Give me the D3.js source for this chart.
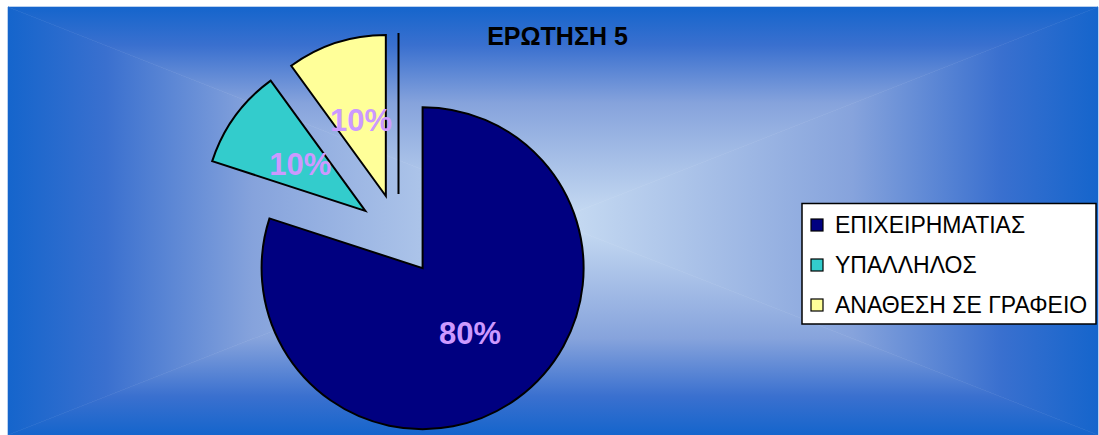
<!DOCTYPE html>
<html>
<head>
<meta charset="utf-8">
<script src="https://cdn.jsdelivr.net/npm/d3@7"></script>
<style>
  html, body { margin: 0; padding: 0; background: #ffffff; }
  svg { display: block; }
  text { font-family: "Liberation Sans", Arial, sans-serif; }
</style>
</head>
<body>
<svg id="chart" width="1099" height="435"></svg>
<script>
// Chart data
const title = "ΕΡΩΤΗΣΗ 5";
const categories = ["ΕΠΙΧΕΙΡΗΜΑΤΙΑΣ", "ΥΠΑΛΛΗΛΟΣ", "ΑΝΑΘΕΣΗ ΣΕ ΓΡΑΦΕΙΟ", ""];
const values = [80, 10, 10, 0];
const sliceColors = ["#000080", "#33cccc", "#ffff99", "#ffffff"];

const W = 1099, H = 435;
const svg = d3.select("#chart");

// Plot background: rectangular "from centre" gradient built from four triangles
const bg = { x0: 8, y0: 7, x1: 1098, y1: 435 };
const cx = (bg.x0 + bg.x1) / 2, cy = (bg.y0 + bg.y1) / 2;
const defs = svg.append("defs");
const stops = [
  { o: 0, c: "#1565cc" },
  { o: 0.18, c: "#3a70cf" },
  { o: 0.45, c: "#86a3dc" },
  { o: 1, c: "#c9ddf3" }
];
const sides = [
  { id: "gTop", pts: [[bg.x0, bg.y0], [bg.x1, bg.y0], [cx, cy]], g: [cx, bg.y0, cx, cy] },
  { id: "gBottom", pts: [[bg.x0, bg.y1], [bg.x1, bg.y1], [cx, cy]], g: [cx, bg.y1, cx, cy] },
  { id: "gLeft", pts: [[bg.x0, bg.y0], [bg.x0, bg.y1], [cx, cy]], g: [bg.x0, cy, cx, cy] },
  { id: "gRight", pts: [[bg.x1, bg.y0], [bg.x1, bg.y1], [cx, cy]], g: [bg.x1, cy, cx, cy] }
];
sides.forEach(s => {
  const lg = defs.append("linearGradient").attr("id", s.id)
    .attr("gradientUnits", "userSpaceOnUse")
    .attr("x1", s.g[0]).attr("y1", s.g[1]).attr("x2", s.g[2]).attr("y2", s.g[3]);
  stops.forEach(st => lg.append("stop").attr("offset", st.o).attr("stop-color", st.c));
});
const bgLayer = svg.append("g");
sides.forEach(s => {
  bgLayer.append("path")
    .attr("d", d3.line()(s.pts) + "Z")
    .attr("fill", `url(#${s.id})`)
    .attr("stroke", `url(#${s.id})`)
    .attr("stroke-width", 0.6);
});

// Title
svg.append("text")
  .attr("x", 557.5).attr("y", 44.5)
  .attr("text-anchor", "middle")
  .attr("font-size", 25).attr("font-weight", "bold")
  .attr("fill", "#000")
  .text(title);

// Exploded pie
const radius = 161, explode = 41;
const center = [398.5, 235];
const data = categories.map((c, i) => ({ name: c, value: values[i], color: sliceColors[i] }));
const total = d3.sum(values);
const pie = d3.pie().sort(null).value(d => d.value);
const arc = d3.arc().innerRadius(0).outerRadius(radius);
const arcs = pie(data);

const pieG = svg.append("g").attr("transform", `translate(${center[0]},${center[1]})`);
const slices = pieG.selectAll("g.slice").data(arcs).join("g")
  .attr("class", "slice")
  .attr("transform", d => {
    const mid = (d.startAngle + d.endAngle) / 2;
    return `translate(${explode * Math.sin(mid)},${-explode * Math.cos(mid)})`;
  });
slices.append("path")
  .attr("d", arc)
  .attr("fill", d => d.data.color)
  .attr("stroke", "#000")
  .attr("stroke-width", 2)
  .attr("stroke-linejoin", "miter");

// Percentage labels at half radius
slices.filter(d => d.data.value > 0).append("text")
  .attr("transform", d => `translate(${arc.centroid(d)})`)
  .attr("text-anchor", "middle")
  .attr("dy", "0.36em")
  .attr("font-size", 31).attr("font-weight", "bold")
  .attr("fill", "#cc99ff")
  .text(d => Math.round(d.data.value / total * 100) + "%");

// Legend
const legendItems = data.filter(d => d.name !== "");
const legend = svg.append("g");
legend.append("rect")
  .attr("x", 802).attr("y", 203.5)
  .attr("width", 294).attr("height", 120.5)
  .attr("fill", "#ffffff").attr("stroke", "#000").attr("stroke-width", 1.5);
const rowY = d3.scalePoint().domain(legendItems.map(d => d.name)).range([225, 305]);
const rows = legend.selectAll("g.row").data(legendItems).join("g")
  .attr("class", "row")
  .attr("transform", d => `translate(0,${rowY(d.name)})`);
rows.append("rect")
  .attr("x", 811).attr("y", -6).attr("width", 12).attr("height", 12)
  .attr("fill", d => d.color).attr("stroke", "#000").attr("stroke-width", 1.2);
rows.append("text")
  .attr("x", 835).attr("y", 0).attr("dy", "0.36em")
  .attr("font-size", 23).attr("fill", "#000")
  .text(d => d.name);
</script>
</body>
</html>
